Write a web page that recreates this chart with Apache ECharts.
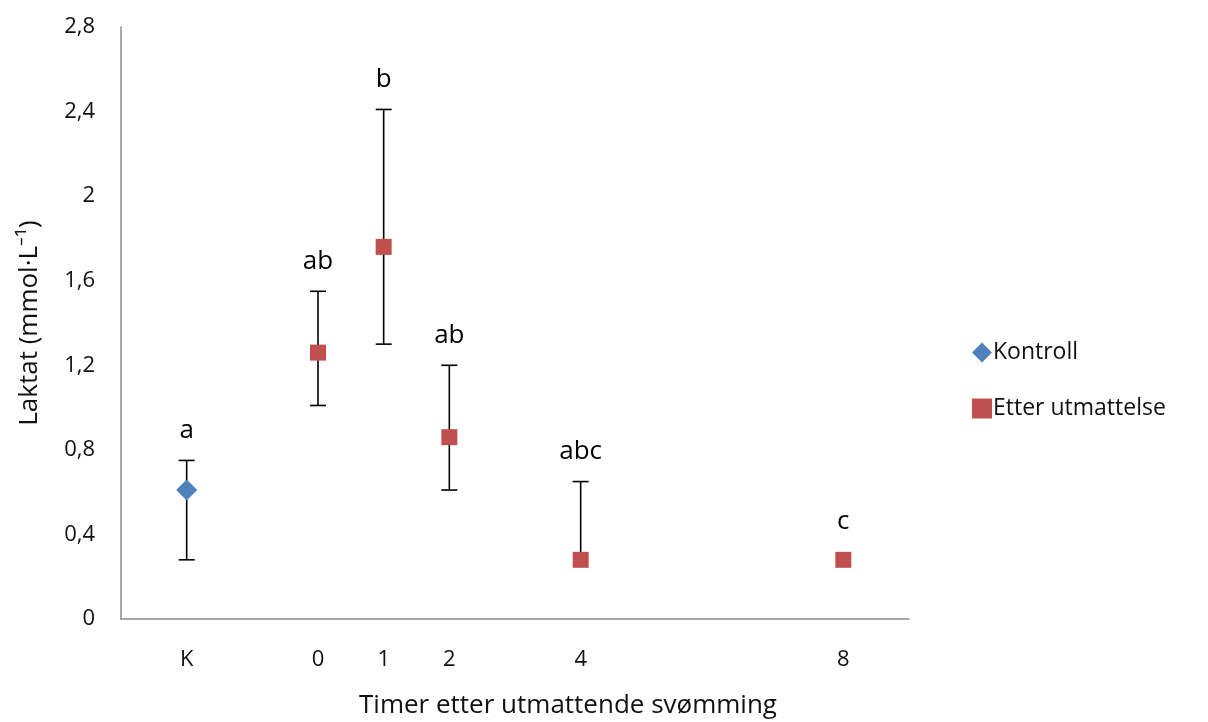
<!DOCTYPE html>
<html><head><meta charset="utf-8">
<script src="https://cdn.jsdelivr.net/npm/echarts@6/dist/echarts.min.js"></script>
<style>html,body{margin:0;padding:0;background:#fff}#c{width:1208px;height:722px}</style>
</head><body><div id="c"></div>
<script>
// x positions (hours after exhaustive swimming; K = control placed at -2)
const tickValues = [-2, 0, 1, 2, 4, 8];
const tickLabels = ['K', '0', '1', '2', '4', '8'];
const yTicks = [0, 0.4, 0.8, 1.2, 1.6, 2, 2.4, 2.8];

const kontrollX = [-2];
const kontrollMean = [0.61];
const kontrollHi = [0.75];
const kontrollLo = [0.28];
const kontrollLetters = ['a'];

const etterX = [0, 1, 2, 4, 8];
const etterMean = [1.26, 1.76, 0.86, 0.28, 0.28];
const etterHi = [1.55, 2.41, 1.20, 0.65, null];
const etterLo = [1.01, 1.30, 0.61, null, null];
const etterLetters = ['ab', 'b', 'ab', 'abc', 'c'];

const allX = kontrollX.concat(etterX);
const allMean = kontrollMean.concat(etterMean);
const allHi = kontrollHi.concat(etterHi);
const allLo = kontrollLo.concat(etterLo);
const allLetters = kontrollLetters.concat(etterLetters);

const FONT = 'Open Sans';
const chart = echarts.init(document.getElementById('c'), null, {renderer: 'canvas'});

function renderErr(params, api) {
  const i = params.dataIndex;
  const x = allX[i], m = allMean[i], hi = allHi[i], lo = allLo[i];
  const children = [];
  const cap = 8;
  const style = {stroke: '#000', lineWidth: 1.6};
  const pm = api.coord([x, m]);
  let topY = pm[1] - 8;
  if (hi != null) {
    const ph = api.coord([x, hi]);
    children.push({type: 'line', shape: {x1: ph[0], y1: ph[1], x2: pm[0], y2: pm[1]}, style: style});
    children.push({type: 'line', shape: {x1: ph[0] - cap, y1: ph[1], x2: ph[0] + cap, y2: ph[1]}, style: style});
    topY = ph[1];
  }
  if (lo != null) {
    const pl = api.coord([x, lo]);
    children.push({type: 'line', shape: {x1: pl[0], y1: pl[1], x2: pm[0], y2: pm[1]}, style: style});
    children.push({type: 'line', shape: {x1: pl[0] - cap, y1: pl[1], x2: pl[0] + cap, y2: pl[1]}, style: style});
  }
  children.push({type: 'text', x: pm[0], y: topY - 30, style: {
    text: allLetters[i], fill: '#000', font: '26px "' + FONT + '"', align: 'center', verticalAlign: 'middle'}});
  return {type: 'group', children: children};
}

chart.setOption({
  animation: false,
  backgroundColor: '#fff',
  textStyle: {fontFamily: FONT},
  grid: {left: 121, right: 299, top: 27, bottom: 103, containLabel: false},
  xAxis: {
    type: 'value', min: -3, max: 9,
    splitLine: {show: false},
    axisLine: {lineStyle: {color: '#8c8c8c', width: 1.5}},
    axisTick: {show: false},
    axisLabel: {
      customValues: tickValues, margin: 30, color: '#111', fontSize: 22, fontFamily: FONT,
      formatter: v => tickLabels[tickValues.indexOf(v)] || ''
    }
  },
  yAxis: {
    type: 'value', min: 0, max: 2.8, interval: 0.4,
    splitLine: {show: false},
    axisLine: {show: true, onZero: false, lineStyle: {color: '#8c8c8c', width: 1.5}},
    axisTick: {show: false},
    axisLabel: {margin: 26, color: '#111', fontSize: 22, fontFamily: FONT,
      formatter: v => {
        const t = yTicks.find(tv => Math.abs(tv - v) < 1e-6);
        return String(t != null ? t : v).replace('.', ',');
      }},
    name: 'Laktat (mmol·L⁻¹)', nameLocation: 'middle', nameGap: 78,
    nameTextStyle: {fontSize: 26, color: '#111', fontFamily: FONT}
  },
  legend: {
    orient: 'vertical', left: 967, top: 336, itemGap: 33,
    itemWidth: 20, itemHeight: 20,
    textStyle: {fontSize: 23, color: '#111', fontFamily: FONT, padding: [0, 0, 0, -4]},
    data: [
      {name: 'Kontroll', icon: 'diamond'},
      {name: 'Etter utmattelse', icon: 'path://M2,2L18,2L18,18L2,18Z'}
    ]
  },
  graphic: [{
    type: 'text', x: 568, y: 706, style: {text: 'Timer etter utmattende svømming', fill: '#111',
      font: '26px "' + FONT + '"', align: 'center', verticalAlign: 'middle'}
  }],
  series: [
    {
      type: 'custom', name: 'err', renderItem: renderErr, silent: true, z: 1,
      data: allX.map((x, i) => [x, allMean[i]]), encode: {x: 0, y: 1}
    },
    {
      type: 'scatter', name: 'Kontroll', symbol: 'diamond', symbolSize: [21, 21], z: 3,
      itemStyle: {color: '#4F81BD', opacity: 1},
      data: kontrollX.map((x, i) => [x, kontrollMean[i]])
    },
    {
      type: 'scatter', name: 'Etter utmattelse', symbol: 'rect', symbolSize: 16, z: 3,
      itemStyle: {color: '#C0504D', opacity: 1},
      data: etterX.map((x, i) => [x, etterMean[i]])
    }
  ]
});
</script></body></html>
